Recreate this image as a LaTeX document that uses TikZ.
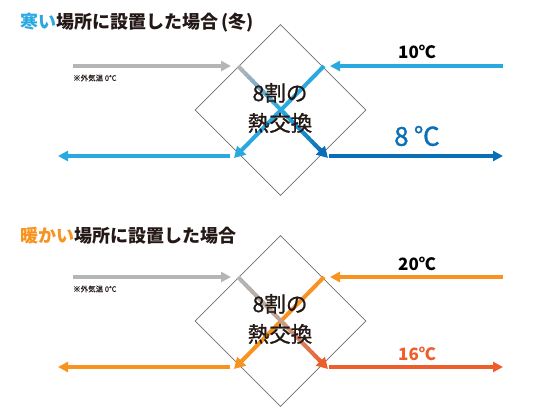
\documentclass[tikz,border=0pt]{standalone}
\usepackage{fontspec}
\setmainfont{Noto Sans CJK JP}
\usetikzlibrary{arrows.meta,shapes.geometric,calc}
\definecolor{cblue}{HTML}{29A9E0}
\definecolor{cdblue}{HTML}{0B6FB8}
\definecolor{cgray}{HTML}{B5B5B5}
\definecolor{corange}{HTML}{F7931E}
\definecolor{cred}{HTML}{EE5E2B}
\definecolor{ctext}{HTML}{231815}
\definecolor{cedge}{HTML}{6E6E6E}
\definecolor{cbrown}{HTML}{C4A08E}
% gradient shaft: #1 start, #2 end(tip), #3 c1, #4 c2, #5 c3
\newcommand\hxgrad[5]{%
  \coordinate (hxS) at ($(#2)!9pt!(#1)$);
  \foreach \k in {0,...,23}{%
    \pgfmathsetmacro\ta{\k/24}%
    \pgfmathsetmacro\tb{min((\k+1.4)/24,1)}%
    \ifnum\k<12
      \pgfmathtruncatemacro\pc{100*\k/12}%
      \draw[line width=4pt,color=#4!\pc!#3] ($(#1)!\ta!(hxS)$) -- ($(#1)!\tb!(hxS)$);
    \else
      \pgfmathtruncatemacro\pc{100*(\k-12)/12}%
      \draw[line width=4pt,color=#5!\pc!#4] ($(#1)!\ta!(hxS)$) -- ($(#1)!\tb!(hxS)$);
    \fi
  }%
  \draw[diag,#5] ($(#2)!12pt!(#1)$) -- (#2);
}
\begin{document}
\begin{tikzpicture}[x=1pt,y=-1pt,
  flow/.style={line width=3.2pt,-{Triangle[length=10pt,width=10pt]}},
  diag/.style={line width=4pt,-{Triangle[length=11pt,width=12pt]}},
  hxbox/.style={diamond,draw=cedge,line width=0.8pt,minimum width=171pt,minimum height=171pt,aspect=1,inner sep=0pt},
  title/.style={anchor=west,font=\bfseries\fontsize{18}{20}\selectfont,text=ctext,inner sep=0pt},
  centertext/.style={align=center,font=\fontsize{21.5}{30}\selectfont\addfontfeature{FakeBold=1},text=ctext,inner sep=0pt},
  note/.style={anchor=west,font=\fontsize{7.5}{8}\selectfont\addfontfeature{FakeBold=0.3},text=ctext,inner sep=0pt},
  temp/.style={font=\bfseries\fontsize{17}{18}\selectfont,inner sep=0pt}]
\useasboundingbox (0,0) rectangle (560,420);

% ---------- top panel ----------
\node[title] (t1) at (20,23) {\textcolor{cblue}{寒い}場所に設置した場合\,(冬)};
\node[hxbox] (d1) at (280.5,110) {};
\coordinate (a1s) at (73,66);   \coordinate (a1e) at (231,66);
\coordinate (b1s) at (503,66);  \coordinate (b1e) at (330,66);
\coordinate (c1s) at (230,156); \coordinate (c1e) at (58,156);
\coordinate (e1s) at (329,156); \coordinate (e1e) at (503,156);
\coordinate (g1s) at (238,66);  \coordinate (g1e) at (328,158);
\coordinate (h1s) at (324,66);  \coordinate (h1e) at (234,158);
\draw[flow,cgray] (a1s) -- (a1e);
\draw[flow,cblue] (b1s) -- (b1e);
\draw[flow,cblue] (c1s) -- (c1e);
\draw[flow,cdblue] (e1s) -- (e1e);
\draw[diag,cblue] (h1s) -- (h1e);
\hxgrad{g1s}{g1e}{cgray}{cblue}{cdblue}
\node[note] (n1) at (73,78) {※外気温 0℃};
\node[temp] (p1) at (417,52) {10℃};
\node[font=\fontsize{26}{28}\selectfont\addfontfeature{FakeBold=1.2},text=cdblue,inner sep=0pt] (q1) at (417,136) {8\hspace{0.2em}℃};
\node[centertext] (m1) at (280,108) {8割の\\熱交換};

% ---------- bottom panel ----------
\node[title] (t2) at (20,236) {\textcolor{corange}{暖かい}場所に設置した場合};
\node[hxbox] (d2) at (280.5,321) {};
\coordinate (a2s) at (73,277);   \coordinate (a2e) at (231,277);
\coordinate (b2s) at (503,277);  \coordinate (b2e) at (330,277);
\coordinate (c2s) at (230,367);  \coordinate (c2e) at (58,367);
\coordinate (e2s) at (329,367);  \coordinate (e2e) at (503,367);
\coordinate (g2s) at (238,277);  \coordinate (g2e) at (328,369);
\coordinate (h2s) at (324,277);  \coordinate (h2e) at (234,369);
\draw[flow,cgray] (a2s) -- (a2e);
\draw[flow,corange] (b2s) -- (b2e);
\draw[flow,corange] (c2s) -- (c2e);
\draw[flow,cred] (e2s) -- (e2e);
\draw[diag,corange] (h2s) -- (h2e);
\hxgrad{g2s}{g2e}{cgray}{cbrown}{cred}
\node[note] (n2) at (73,289) {※外気温 0℃};
\node[temp] (p2) at (417,264) {20℃};
\node[temp,text=cred] (q2) at (417,354) {16℃};
\node[centertext] (m2) at (280,319) {8割の\\熱交換};
\end{tikzpicture}
\end{document}
